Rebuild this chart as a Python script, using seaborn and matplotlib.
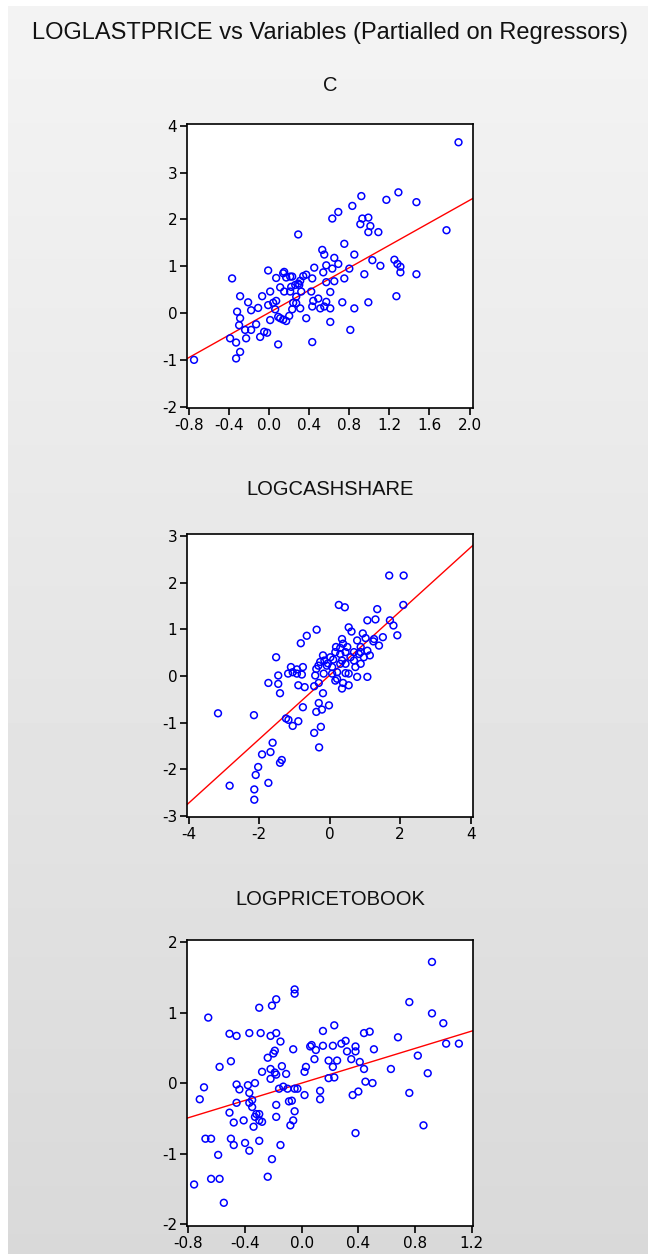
import numpy as np
import pandas as pd
import matplotlib
matplotlib.use("Agg")
import matplotlib.pyplot as plt
import seaborn as sns

# ==============================
# Dados
# ==============================
titulo = "LOGLASTPRICE vs Variables (Partialled on Regressors)"
paineis = ["C", "LOGCASHSHARE", "LOGPRICETOBOOK"]

c_x = [1.89, 0.92, 1.29, 1.17, 1.47, 0.83, 0.69, 0.63, 0.93, 0.99, 0.91, 1.01, 0.99, 1.09,
       1.77, 0.29, 0.75, 0.53, 0.55, 0.85, 0.65, 1.03, 1.25, 1.28, 1.31, 1.31, 1.47, 1.11,
       0.95, 0.80, 0.69, 0.57, 0.63, 0.45, 0.54, 0.57, 0.65, 0.75, 0.61, 0.43, 0.37, 0.42,
       0.49, 0.44, 0.43, 0.55, 0.61, 0.73, 0.85, 0.99, 1.27, 0.61, 0.81, 0.43, 0.37, 0.31,
       0.24, 0.27, 0.32, 0.29, 0.31, 0.34, 0.23, 0.15, 0.17, 0.07, -0.01, 0.11, 0.15, 0.21,
       0.22, 0.26, 0.01, -0.07, -0.21, -0.29, -0.37, -0.32, -0.29, -0.18, -0.11, -0.01, 0.04,
       0.07, 0.01, 0.09, 0.11, 0.14, 0.17, 0.20, 0.23, 0.06, -0.13, -0.18, -0.24, -0.30,
       -0.23, -0.09, -0.05, -0.02, -0.39, -0.33, -0.29, -0.33, -0.75, 0.09, 0.14, 0.21, 0.27,
       0.30, 0.51, 0.57]
c_y = [3.65, 2.50, 2.58, 2.42, 2.37, 2.29, 2.16, 2.02, 2.02, 2.04, 1.90, 1.86, 1.73, 1.73,
       1.77, 1.68, 1.48, 1.35, 1.25, 1.25, 1.18, 1.13, 1.14, 1.05, 0.99, 0.87, 0.83, 1.01,
       0.83, 0.95, 1.05, 1.02, 0.95, 0.97, 0.87, 0.66, 0.68, 0.74, 0.45, 0.74, 0.82, 0.46,
       0.31, 0.26, 0.14, 0.14, 0.10, 0.23, 0.10, 0.23, 0.36, -0.19, -0.36, -0.62, -0.11, 0.10,
       0.22, 0.35, 0.46, 0.63, 0.69, 0.79, 0.78, 0.88, 0.76, 0.75, 0.91, 0.55, 0.46, 0.46,
       0.56, 0.60, 0.46, 0.36, 0.23, 0.36, 0.74, 0.03, -0.11, 0.06, 0.11, 0.17, 0.22,
       0.26, -0.15, -0.08, -0.11, -0.14, -0.17, -0.06, 0.08, 0.08, -0.24, -0.36, -0.36, -0.26,
       -0.54, -0.51, -0.40, -0.42, -0.54, -0.63, -0.83, -0.97, -1.00, -0.67, 0.85, 0.78, 0.21,
       0.60, 0.10, 0.24]

cash_x = [1.69, 2.10, 2.09, 0.26, 0.43, 1.35, 1.07, 1.30, 1.71, 1.81, 1.92, 1.51, 1.40, 1.24,
          0.54, 0.62, 0.94, 1.02, 0.35, 0.18, 0.30, 0.38, 0.50, 0.78, 0.88, 1.07, 1.14, 0.97,
          0.83, 0.69, 0.88, 1.07, 0.78, 0.54, 0.54, 0.38, 0.16, 0.21, 0.07, -0.05, 0.02, 0.10,
          -0.19, -0.27, -0.32, -0.38, -0.41, -0.44, -0.31, -0.19, -0.31, -0.02, -0.38, -0.22,
          -0.25, -0.44, -0.30, -0.37, -0.65, -0.82, -0.76, -0.93, -1.10, -1.05, -1.18, -0.93,
          -0.79, -0.89, -0.71, -0.76, -0.89, -1.05, -1.17, -1.24, -1.52, -1.46, -1.46, -1.41,
          -1.74, -3.17, -2.15, -1.62, -1.68, -1.92, -2.03, -2.10, -1.36, -1.41, -2.84, -1.74,
          -2.14, -2.14, 0.30, 0.45, 0.59, 0.45, 0.30, 0.73, 0.21, -0.08, -0.15, 0.35, 0.88,
          0.69, 0.16, 0.45, 0.07, -0.17, 0.35, 1.26]
cash_y = [2.15, 2.15, 1.52, 1.52, 1.47, 1.43, 1.19, 1.21, 1.19, 1.08, 0.87, 0.83, 0.65, 0.74,
          1.04, 0.95, 0.91, 0.81, 0.79, 0.62, 0.60, 0.69, 0.62, 0.76, 0.62, 0.54, 0.44, 0.40,
          0.47, 0.33, 0.26, -0.02, -0.02, 0.05, -0.20, -0.15, -0.10, 0.08, 0.19, 0.27, 0.40, 0.35,
          0.44, 0.30, 0.22, 0.15, 0.01, -0.22, -0.15, -0.37, -0.58, -0.63, -0.77, -0.72,
          -1.09, -1.22, -1.53, 0.99, 0.86, 0.70, 0.19, 0.14, 0.19, 0.08, 0.05, 0.05,
          0.03, -0.20, -0.24, -0.67, -0.97, -1.07, -0.94, -0.91, 0.40, 0.01, -0.17, -0.37,
          -0.15, -0.80, -0.84, -1.43, -1.63, -1.68, -1.95, -2.12, -1.80, -1.86, -2.35, -2.29,
          -2.43, -2.65, 0.47, 0.51, 0.40, 0.26, 0.26, 0.19, -0.06, 0.22, 0.33, 0.33, 0.51,
          0.51, 0.51, 0.06, 0.05, 0.05, -0.27, 0.79]

ptb_x = [0.92, -0.05, -0.05, -0.18, -0.21, -0.30, -0.66, 0.76, 0.92, 1.00, 1.02, 1.11, 0.68,
         0.48, 0.44, 0.23, 0.15, -0.51, -0.46, -0.37, -0.29, -0.22, -0.18, -0.15, 0.06, 0.07,
         0.15, 0.22, 0.28, 0.31, 0.32, 0.38, 0.38, 0.51, 0.10, -0.06, -0.19, -0.20, -0.24,
         -0.50, -0.58, -0.28, -0.22, -0.19, -0.18, -0.14, -0.11, -0.22, 0.03, 0.02, 0.09, 0.19,
         0.22, 0.25, 0.35, 0.41, 0.44, 0.19, 0.23, 0.45, 0.50, 0.63, 0.82, 0.89, 0.76, 0.86,
         0.38, 0.36, 0.40, 0.13, 0.13, 0.02, -0.05, -0.03, -0.07, -0.09, -0.05, -0.06, -0.08,
         -0.13, -0.10, -0.16, -0.18, -0.18, -0.15, -0.21, -0.24, -0.55, -0.76, -0.64, -0.58,
         -0.59, -0.68, -0.64, -0.50, -0.48, -0.40, -0.37, -0.30, -0.34, -0.41, -0.48, -0.51,
         -0.30, -0.28, -0.33, -0.30, -0.32, -0.35, -0.37, -0.35, -0.46, -0.44, -0.46, -0.38,
         -0.33, -0.37, -0.72, -0.69]
ptb_y = [1.72, 1.33, 1.27, 1.19, 1.10, 1.07, 0.93, 1.15, 0.99, 0.85, 0.56, 0.56, 0.65, 0.73,
         0.71, 0.82, 0.74, 0.70, 0.67, 0.71, 0.71, 0.67, 0.71, 0.59, 0.52, 0.54, 0.53, 0.53,
         0.56, 0.60, 0.45, 0.52, 0.45, 0.48, 0.47, 0.48, 0.46, 0.42, 0.36, 0.31, 0.23, 0.16,
         0.20, 0.15, 0.12, 0.24, 0.13, 0.06, 0.23, 0.16, 0.34, 0.32, 0.23, 0.32, 0.34, 0.30,
         0.20, 0.07, 0.08, 0.02, 0.00, 0.20, 0.39, 0.14, -0.14, -0.60, -0.71, -0.17, -0.12,
         -0.11, -0.23, -0.17, -0.08, -0.08, -0.25, -0.26, -0.40, -0.53, -0.60, -0.05, -0.08,
         -0.08, -0.31, -0.48, -0.88, -1.08, -1.33, -1.70, -1.44, -1.36, -1.36, -1.02, -0.79,
         -0.79, -0.79, -0.88, -0.85, -0.96, -0.82, -0.62, -0.53, -0.56, -0.42, -0.53, -0.55,
         -0.48, -0.44, -0.44, -0.34, -0.28, -0.24, -0.28, -0.09, -0.02, -0.03, -0.00, -0.14,
         -0.23, -0.06]

# reta ajustada (intercepto, inclinacao)
fit_c = (0.01, 1.20)
fit_cash = (0.015, 0.684)
fit_ptb = (0.0, 0.615)

# ==============================
# Eixos
# ==============================
xticks = [[-0.8, -0.4, 0.0, 0.4, 0.8, 1.2, 1.6, 2.0], [-4, -2, 0, 2, 4],
          [-0.8, -0.4, 0.0, 0.4, 0.8, 1.2]]
xlabels = [["-0.8", "-0.4", "0.0", "0.4", "0.8", "1.2", "1.6", "2.0"], ["-4", "-2", "0", "2", "4"],
           ["-0.8", "-0.4", "0.0", "0.4", "0.8", "1.2"]]
yticks = [[-2, -1, 0, 1, 2, 3, 4], [-3, -2, -1, 0, 1, 2, 3], [-2, -1, 0, 1, 2]]
xlims = [(-0.82, 2.035), (-4.05, 4.07), (-0.81, 1.21)]
ylims = [(-2.03, 4.04), (-3.02, 3.04), (-2.03, 2.03)]

sns.set_style("white")
plt.rcParams["font.family"] = ["DejaVu Sans"]
plt.rcParams["axes.unicode_minus"] = False

fig = plt.figure(figsize=(6.48, 12.54), dpi=100)

# fundo em degrade
bg = fig.add_axes([8 / 648, 0, 1 - 8 / 648, 1 - 6 / 1254], zorder=-10)
grad = np.linspace(0.955, 0.85, 256).reshape(-1, 1)
bg.imshow(grad, aspect="auto", cmap="gray", vmin=0, vmax=1, extent=[0, 1, 0, 1])
bg.axis("off")

fig.text(0.509, 0.9735, titulo, ha="center", va="center", fontsize=17, color="#111111",
         family=["Liberation Sans", "DejaVu Sans"])

posicoes = [[0.2886, 0.6746, 0.4414, 0.2265],
            [0.2886, 0.3485, 0.4414, 0.2257],
            [0.2886, 0.0223, 0.4414, 0.2280]]
titulos_y = [0.932, 0.610, 0.283]
dados = [(c_x, c_y, fit_c), (cash_x, cash_y, fit_cash), (ptb_x, ptb_y, fit_ptb)]

for i, (xs, ys, fit) in enumerate(dados):
    ax = fig.add_axes(posicoes[i])
    ax.set_facecolor("white")
    df = pd.DataFrame({"x": xs, "y": ys})
    sns.scatterplot(data=df, x="x", y="y", ax=ax, marker="o", s=24,
                    facecolor="none", edgecolor="#0000ff", linewidth=1.1, zorder=3)
    ax.axline((0, fit[0]), slope=fit[1], color="red", linewidth=1.0, zorder=2)
    ax.set_xlim(xlims[i])
    ax.set_ylim(ylims[i])
    ax.set_xticks(xticks[i])
    ax.set_xticklabels(xlabels[i])
    ax.set_yticks(yticks[i])
    ax.set_xlabel("")
    ax.set_ylabel("")
    for s in ax.spines.values():
        s.set_color("black")
        s.set_linewidth(1.2)
    ax.tick_params(axis="both", which="both", direction="out", length=5, width=1.2,
                   labelsize=11, colors="black", left=True, bottom=True, top=False, right=False,
                   pad=2)
    fig.text(0.509, titulos_y[i], paineis[i], ha="center", va="center", fontsize=14.5,
             color="#111111", family=["Liberation Sans", "DejaVu Sans"])

fig.savefig("out.png", dpi=100)
